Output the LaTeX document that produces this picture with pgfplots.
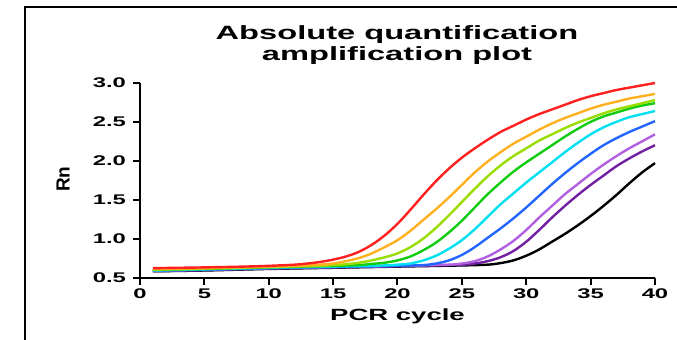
\documentclass[border=0pt]{standalone}
\usepackage{pgfplots}
\pgfplotsset{compat=1.18}
\usepackage{fontspec}
\setmainfont[FakeStretch=1.7]{Liberation Sans}
\newfontfamily\rnfont{Liberation Sans}
\definecolor{cRed}{HTML}{FF2020}
\definecolor{cOrange}{HTML}{FFB020}
\definecolor{cYG}{HTML}{99DD00}
\definecolor{cGreen}{HTML}{11CC11}
\definecolor{cCyan}{HTML}{00E0F0}
\definecolor{cBlue}{HTML}{2266FF}
\definecolor{cLPurple}{HTML}{B060E0}
\definecolor{cPurple}{HTML}{7020A0}
\begin{document}
\begin{tikzpicture}
\useasboundingbox (0,0) rectangle (338.5pt,169.5pt);
\draw[line width=1pt] (12.5pt,-1pt) -- (12.5pt,166pt) -- (340pt,166pt);
\begin{axis}[
  at={(70pt,30.75pt)}, anchor=south west,
  scale only axis, width=257.5pt, height=97.25pt,
  xmin=0, xmax=40, ymin=0.5, ymax=3.0,
  axis lines=left,
  axis line style={line width=1pt, -},
  xtick={0,5,...,40}, ytick={0.5,1.0,...,3.0},
  tick align=outside, major tick length=3.5pt,
  tick style={black, line width=1pt},
  /pgf/number format/assume math mode=true,
  yticklabel style={/pgf/number format/.cd, fixed, fixed zerofill, precision=1},
  ticklabel style={font=\fontsize{7}{8}\selectfont\bfseries},
  xticklabel style={yshift=1.5pt},
  xlabel={PCR cycle},
  xlabel style={at={(axis description cs:0.5,-0.22)}, anchor=base, font=\fontsize{8.1}{9}\selectfont\bfseries},
  ylabel={Rn},
  ylabel style={at={(axis description cs:-0.1495,0.506)}, anchor=center, rotate=0, font=\fontsize{9.5}{11}\selectfont\rnfont\bfseries},
  clip=false,
  every axis plot/.append style={line width=1.2pt, no markers, smooth, tension=0.55},
]
\addplot[black] coordinates {(1,0.58)(5,0.59)(10,0.61)(15,0.625)(20,0.64)(25,0.655)(27,0.665)(28,0.685)(29,0.72)(30,0.78)(31,0.86)(32,0.96)(33,1.06)(34,1.17)(35,1.29)(36,1.42)(37,1.56)(38,1.71)(39,1.85)(40,1.97)};
\addplot[cPurple] coordinates {(1,0.58)(5,0.595)(10,0.615)(15,0.63)(20,0.645)(25,0.665)(26,0.68)(27,0.71)(28,0.76)(29,0.84)(30,0.96)(31,1.11)(32,1.27)(33,1.42)(34,1.56)(35,1.69)(36,1.81)(37,1.93)(38,2.03)(39,2.12)(40,2.20)};
\addplot[cLPurple] coordinates {(1,0.59)(5,0.60)(10,0.62)(15,0.635)(20,0.65)(24,0.665)(25,0.68)(26,0.71)(27,0.77)(28,0.86)(29,0.97)(30,1.11)(31,1.27)(32,1.42)(33,1.57)(34,1.70)(35,1.83)(36,1.95)(37,2.06)(38,2.16)(39,2.25)(40,2.34)};
\addplot[cBlue] coordinates {(1,0.59)(5,0.60)(10,0.62)(15,0.635)(20,0.65)(22,0.66)(23,0.68)(24,0.72)(25,0.79)(26,0.89)(27,1.01)(28,1.13)(29,1.26)(30,1.40)(31,1.55)(32,1.70)(33,1.84)(34,1.97)(35,2.09)(36,2.20)(37,2.29)(38,2.37)(39,2.44)(40,2.51)};
\addplot[cCyan] coordinates {(1,0.59)(5,0.605)(10,0.625)(15,0.64)(19,0.655)(20,0.665)(21,0.68)(22,0.72)(23,0.78)(24,0.87)(25,0.98)(26,1.12)(27,1.28)(28,1.44)(29,1.58)(30,1.72)(31,1.85)(32,1.98)(33,2.11)(34,2.23)(35,2.34)(36,2.43)(37,2.50)(38,2.56)(39,2.60)(40,2.64)};
\addplot[cGreen] coordinates {(1,0.60)(5,0.61)(10,0.63)(15,0.65)(17,0.66)(18,0.675)(19,0.69)(20,0.72)(21,0.77)(22,0.85)(23,0.95)(24,1.08)(25,1.23)(26,1.40)(27,1.57)(28,1.72)(29,1.86)(30,1.98)(31,2.09)(32,2.20)(33,2.31)(34,2.41)(35,2.50)(36,2.57)(37,2.62)(38,2.67)(39,2.71)(40,2.74)};
\addplot[cYG] coordinates {(1,0.60)(5,0.615)(10,0.635)(14,0.65)(15,0.66)(16,0.67)(17,0.69)(18,0.72)(19,0.76)(20,0.81)(21,0.89)(22,1.00)(23,1.14)(24,1.30)(25,1.47)(26,1.64)(27,1.80)(28,1.94)(29,2.06)(30,2.16)(31,2.26)(32,2.34)(33,2.42)(34,2.49)(35,2.55)(36,2.61)(37,2.66)(38,2.70)(39,2.74)(40,2.78)};
\addplot[cOrange] coordinates {(1,0.61)(5,0.62)(10,0.64)(13,0.655)(14,0.665)(15,0.68)(16,0.71)(17,0.75)(18,0.81)(19,0.89)(20,0.98)(21,1.10)(22,1.24)(23,1.38)(24,1.53)(25,1.69)(26,1.85)(27,1.99)(28,2.11)(29,2.22)(30,2.31)(31,2.40)(32,2.48)(33,2.55)(34,2.61)(35,2.67)(36,2.72)(37,2.76)(38,2.80)(39,2.83)(40,2.86)};
\addplot[cRed] coordinates {(1,0.62)(3,0.625)(5,0.63)(8,0.64)(10,0.65)(12,0.665)(13,0.68)(14,0.70)(15,0.73)(16,0.77)(17,0.83)(18,0.92)(19,1.04)(20,1.19)(21,1.37)(22,1.56)(23,1.74)(24,1.90)(25,2.04)(26,2.16)(27,2.27)(28,2.37)(29,2.45)(30,2.53)(31,2.60)(32,2.66)(33,2.72)(34,2.78)(35,2.83)(36,2.87)(37,2.91)(38,2.94)(39,2.97)(40,3.00)};
\end{axis}
\node[anchor=base, font=\fontsize{9.6}{11}\selectfont\bfseries] at (198.5pt,150pt) {Absolute quantification};
\node[anchor=base, font=\fontsize{9.6}{11}\selectfont\bfseries] at (198.5pt,139.5pt) {amplification plot};
\end{tikzpicture}
\end{document}
